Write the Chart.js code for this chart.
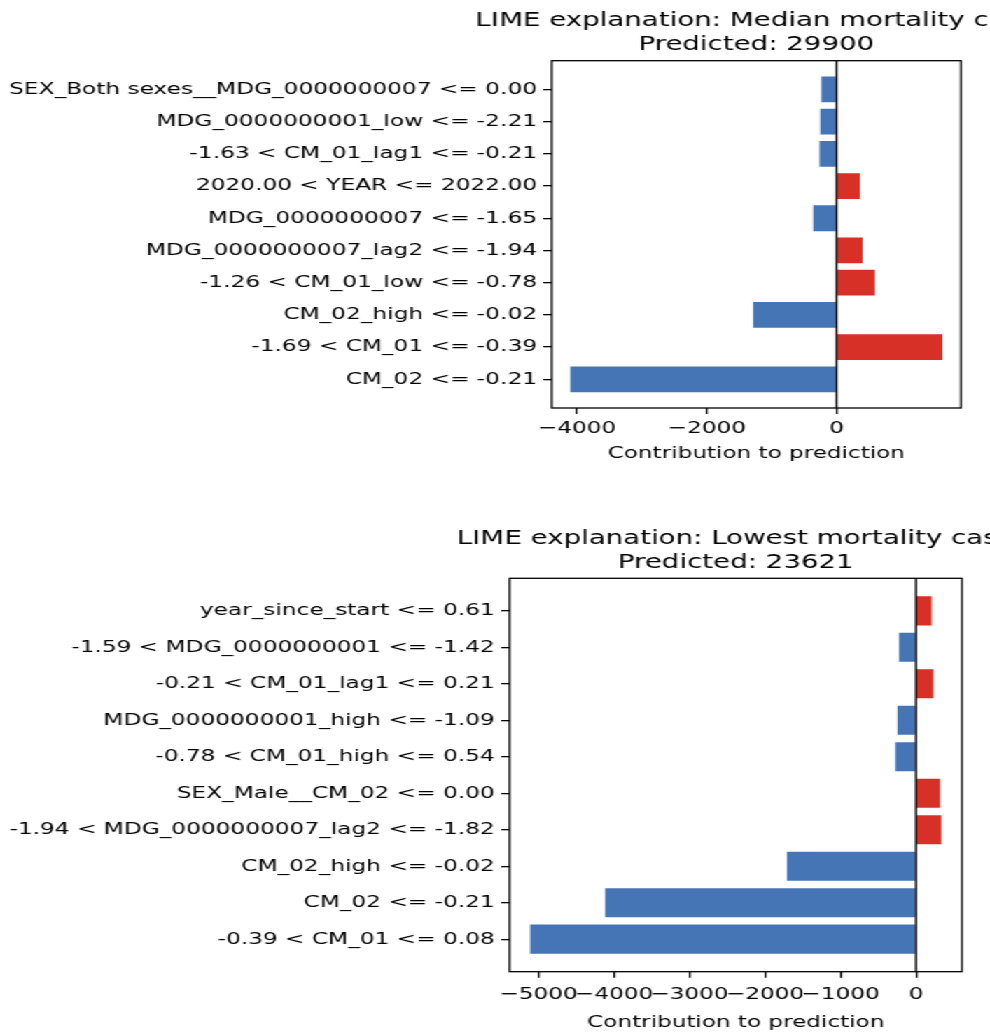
<!DOCTYPE html>
<html>
<head>
<meta charset="utf-8">
<script src="https://cdn.jsdelivr.net/npm/chart.js@4.4.1/dist/chart.umd.min.js"></script>
<style>
  html, body { margin: 0; padding: 0; background: #fff; overflow: hidden; }
  #wrap { position: absolute; left: 0; top: 0; width: 707px; height: 1033px;
          transform: scaleX(1.40028); transform-origin: 0 0; }
  #c1 { position: absolute; left: 0; top: 0; }
  #c2 { position: absolute; left: 0; top: 490px; }
</style>
</head>
<body>
<div id="wrap">
  <canvas id="c1" width="707" height="480"></canvas>
  <canvas id="c2" width="707" height="543"></canvas>
</div>
<script>
// ---------- data ----------
const topTitle = ['LIME explanation: Median mortality case', 'Predicted: 29900'];
const topLabels = [
  'SEX_Both sexes__MDG_0000000007 <= 0.00',
  'MDG_0000000001_low <= -2.21',
  '-1.63 < CM_01_lag1 <= -0.21',
  '2020.00 < YEAR <= 2022.00',
  'MDG_0000000007 <= -1.65',
  'MDG_0000000007_lag2 <= -1.94',
  '-1.26 < CM_01_low <= -0.78',
  'CM_02_high <= -0.02',
  '-1.69 < CM_01 <= -0.39',
  'CM_02 <= -0.21'
];
const topValues = [-236, -252, -262, 360, -360, 401, 591, -1285, 1630, -4102];
const topXTicks = [-4000, -2000, 0];
const topXRange = [-4389, 1917];

const bottomTitle = ['LIME explanation: Lowest mortality case', 'Predicted: 23621'];
const bottomLabels = [
  'year_since_start <= 0.61',
  '-1.59 < MDG_0000000001 <= -1.42',
  '-0.21 < CM_01_lag1 <= 0.21',
  'MDG_0000000001_high <= -1.09',
  '-0.78 < CM_01_high <= 0.54',
  'SEX_Male__CM_02 <= 0.00',
  '-1.94 < MDG_0000000007_lag2 <= -1.82',
  'CM_02_high <= -0.02',
  'CM_02 <= -0.21',
  '-0.39 < CM_01 <= 0.08'
];
const bottomValues = [208, -225, 230, -247, -274, 318, 336, -1710, -4117, -5111];
const bottomXTicks = [-5000, -4000, -3000, -2000, -1000, 0];
const bottomXRange = [-5383, 608];

const xAxisTitle = 'Contribution to prediction';

// ---------- styling ----------
const NEG = '#4575b4';
const POS = '#d73027';
const FONT = 'DejaVu Sans';
Chart.defaults.font.family = FONT;
Chart.defaults.font.size = 16.5;
Chart.defaults.color = '#000';

const titlePlugin = {
  id: 'axTitle',
  afterDraw(chart, args, opts) {
    const { ctx, chartArea } = chart;
    ctx.save();
    ctx.font = `${opts.size}px "${FONT}"`;
    ctx.fillStyle = '#000';
    ctx.textAlign = 'center';
    ctx.textBaseline = 'alphabetic';
    const cx = (chartArea.left + chartArea.right) / 2;
    const n = opts.lines.length;
    opts.lines.forEach((t, i) => {
      const y = chartArea.top - opts.gap - (n - 1 - i) * opts.lineSpacing;
      ctx.fillText(t, cx, y);
    });
    ctx.restore();
  }
};

const framePlugin = {
  id: 'frame',
  afterDatasetsDraw(chart) {
    const { ctx, chartArea: a, scales } = chart;
    ctx.save();
    ctx.strokeStyle = '#000';
    const zx = scales.x.getPixelForValue(0);
    ctx.lineWidth = 1.5;
    ctx.beginPath();
    ctx.moveTo(zx, a.top);
    ctx.lineTo(zx, a.bottom);
    ctx.stroke();
    ctx.lineWidth = 1.3;
    ctx.strokeRect(a.left, a.top, a.right - a.left, a.bottom - a.top);
    ctx.restore();
  }
};

function fmt(v) {
  return v < 0 ? '\u2212' + Math.abs(v) : String(v);
}

function makeChart(canvasId, title, labels, values, xTicks, xRange, geo) {
  const ctx = document.getElementById(canvasId);
  return new Chart(ctx, {
    type: 'bar',
    data: {
      datasets: [{
        data: values.map((v, i) => ({ x: v, y: i })),
        backgroundColor: values.map(v => (v < 0 ? NEG : POS)),
        borderWidth: 0,
        barPercentage: 0.8,
        categoryPercentage: 1.0
      }]
    },
    options: {
      indexAxis: 'y',
      responsive: false,
      animation: false,
      events: [],
      layout: { padding: { top: geo.padTop, right: geo.padRight, bottom: geo.padBottom, left: 0 } },
      plugins: {
        legend: { display: false },
        tooltip: { enabled: false },
        title: { display: false },
        axTitle: { lines: title, size: 19.75, gap: 10.5, lineSpacing: 24 }
      },
      scales: {
        x: {
          type: 'linear',
          position: 'bottom',
          min: xRange[0],
          max: xRange[1],
          afterBuildTicks: s => { s.ticks = xTicks.map(v => ({ value: v })); },
          afterFit: s => { s.height = geo.xHeight; },
          ticks: {
            autoSkip: false, maxRotation: 0, minRotation: 0,
            padding: geo.xTickPad,
            callback: v => fmt(v),
            font: { size: 16.5 }
          },
          grid: { display: true, drawOnChartArea: false, drawTicks: true, tickLength: 6, tickColor: '#000', lineWidth: 1.3, offset: false },
          border: { display: false },
          title: { display: true, text: xAxisTitle, font: { size: 16.5 }, padding: { top: 0, bottom: geo.xTitlePad } }
        },
        y: {
          type: 'linear',
          position: 'left',
          reverse: true,
          offset: false,
          min: -0.89,
          max: 9.89,
          afterBuildTicks: s => { s.ticks = labels.map((_, i) => ({ value: i })); },
          afterFit: s => { s.width = geo.yWidth; },
          ticks: {
            autoSkip: false,
            padding: 4.5,
            callback: v => labels[v],
            font: { size: 16.6 }
          },
          grid: { display: true, drawOnChartArea: false, drawTicks: true, tickLength: 6, tickColor: '#000', lineWidth: 1.3, offset: false },
          border: { display: false }
        }
      }
    },
    plugins: [titlePlugin, framePlugin]
  });
}

makeChart('c1', topTitle, topLabels, topValues, topXTicks, topXRange, {
  padTop: 60.7, padRight: 20.7, padBottom: 12, yWidth: 394.0, xHeight: 60, xTickPad: 5, xTitlePad: 4.1
});
makeChart('c2', bottomTitle, bottomLabels, bottomValues, bottomXTicks, bottomXRange, {
  padTop: 88.3, padRight: 20.0, padBottom: 0, yWidth: 363.9, xHeight: 61.3, xTickPad: 7, xTitlePad: 0.3
});
</script>
</body>
</html>
